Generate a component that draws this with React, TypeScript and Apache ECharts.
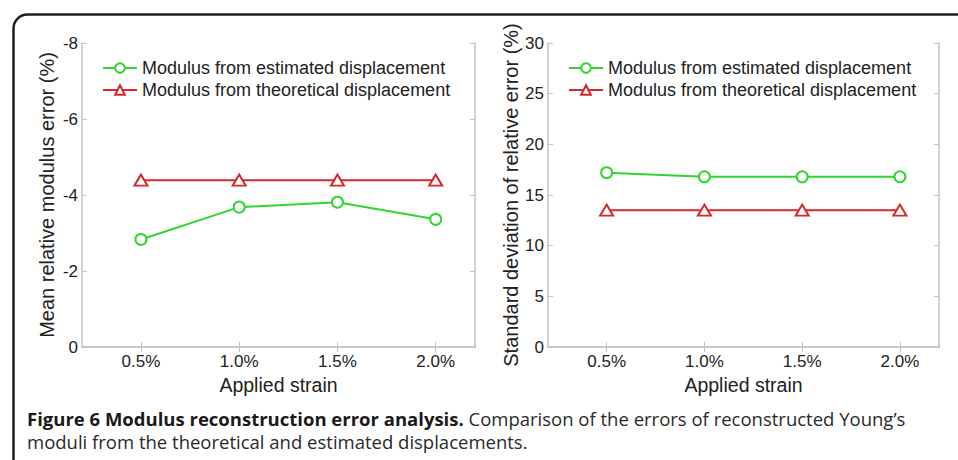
import React, { useEffect, useRef } from "react";
import * as echarts from "echarts";

const strains = [0.5, 1.0, 1.5, 2.0];
const meanEstimated = [-2.83, -3.68, -3.81, -3.36];
const meanTheoretical = [-4.39, -4.39, -4.39, -4.39];
const stdEstimated = [17.2, 16.8, 16.8, 16.8];
const stdTheoretical = [13.5, 13.5, 13.5, 13.5];

const seriesNames = ["Modulus from estimated displacement", "Modulus from theoretical displacement"];
const yTitles = ["Mean relative modulus error (%)", "Standard deviation of relative error (%)"];
const xTitle = "Applied strain";
const captionBold = "Figure 6 Modulus reconstruction error analysis.";
const captionRest1 = " Comparison of the errors of reconstructed Young\u2019s";
const captionLine2 = "moduli from the theoretical and estimated displacements.";

const GREEN = "#2ed62e";
const RED = "#d42a2a";
const BOX = "#c4c4c4";
const TXT = "#222222";
const FONT = "Liberation Sans, Arial, sans-serif";
const CAPFONT = "Open Sans, sans-serif";

export default function App() {
  const ref = useRef<HTMLDivElement>(null);
  useEffect(() => {
    if (!ref.current) return;
    const chart = echarts.init(ref.current, undefined, { renderer: "svg" });
    const grids = [
      { left: 82, right: 958 - 475, top: 43, bottom: 460 - 347 },
      { left: 548, right: 958 - 939, top: 43, bottom: 460 - 347 },
    ];
    const xAxes: any[] = [];
    const yAxes: any[] = [];
    grids.forEach((_, g) => {
      xAxes.push({
        type: "value", gridIndex: g, min: 0.2, max: 2.2, position: "bottom",
        name: xTitle, nameLocation: "middle", nameGap: 26,
        nameTextStyle: { fontSize: 19.5, color: TXT, fontFamily: FONT },
        axisLine: { show: true, lineStyle: { color: BOX, width: 1.5 } },
        axisTick: { show: true, inside: true, length: 5, customValues: strains, lineStyle: { color: BOX } },
        axisLabel: { customValues: strains, formatter: (v: number) => v.toFixed(1) + "%", fontSize: 17, color: TXT, fontFamily: FONT, margin: 6 },
        splitLine: { show: false },
      });
      xAxes.push({
        type: "value", gridIndex: g, min: 0.2, max: 2.2, position: "top",
        axisLine: { show: true, lineStyle: { color: BOX, width: 1.5 } },
        axisTick: { show: true, inside: true, length: 5, customValues: strains, lineStyle: { color: BOX } },
        axisLabel: { show: false },
        splitLine: { show: false },
      });
      const ycfg = g === 0
        ? { min: -8, max: 0, interval: 2, inverse: true }
        : { min: 0, max: 30, interval: 5 };
      yAxes.push({
        type: "value", gridIndex: g, position: "left", ...ycfg,
        name: yTitles[g], nameLocation: "middle", nameGap: g === 0 ? 25 : 27,
        nameTextStyle: { fontSize: 20, color: TXT, fontFamily: FONT },
        axisLine: { show: true, lineStyle: { color: BOX, width: 1.5 } },
        axisTick: { show: true, inside: true, length: 5, lineStyle: { color: BOX } },
        axisLabel: { fontSize: 17, color: TXT, fontFamily: FONT, margin: 4 },
        splitLine: { show: false },
      });
      yAxes.push({
        type: "value", gridIndex: g, position: "right", ...ycfg,
        axisLine: { show: true, lineStyle: { color: BOX, width: 1.5 } },
        axisTick: { show: true, inside: true, length: 5, lineStyle: { color: BOX } },
        axisLabel: { show: false },
        splitLine: { show: false },
      });
    });

    const mk = (name: string, data: number[], g: number, color: string, symbol: string, size: any) => ({
      type: "line", name, xAxisIndex: g * 2, yAxisIndex: g * 2,
      data: strains.map((s, i) => [s, data[i]]),
      symbol, symbolSize: size, showAllSymbol: true,
      lineStyle: { color, width: 2 },
      itemStyle: { color, borderColor: color, borderWidth: 2 },
      emphasis: { disabled: true },
    });

    const legendBase = {
      orient: "vertical", top: 54, itemWidth: 34, itemHeight: 12, itemGap: 4,
      textStyle: { fontSize: 18, color: TXT, fontFamily: FONT },
      data: seriesNames, selectedMode: false,
    };

    chart.setOption({
      animation: false,
      backgroundColor: "#ffffff",
      grid: grids,
      xAxis: xAxes,
      yAxis: yAxes,
      legend: [
        { ...legendBase, left: 97 },
        { ...legendBase, left: 563 },
      ],
      series: [
        mk(seriesNames[0], meanEstimated, 0, GREEN, "emptyCircle", 11),
        mk(seriesNames[1], meanTheoretical, 0, RED, "emptyTriangle", [13, 11]),
        mk(seriesNames[0], stdEstimated, 1, GREEN, "emptyCircle", 11),
        mk(seriesNames[1], stdTheoretical, 1, RED, "emptyTriangle", [13, 11]),
      ],
      graphic: [
        {
          type: "rect", left: 11, top: 12, silent: true,
          shape: { x: 0, y: 0, width: 1000, height: 600, r: 14 },
          style: { fill: "none", stroke: "#1e1e1e", lineWidth: 2.5 },
        },
        {
          type: "text", x: 27, y: 418, silent: true,
          style: {
            text: "{b|" + captionBold + "}{r|" + captionRest1 + "}",
            verticalAlign: "middle",
            rich: {
              b: { fontFamily: CAPFONT, fontWeight: "bold", fontSize: 18.5, fill: "#1a1a1a" },
              r: { fontFamily: CAPFONT, fontSize: 18.5, fill: "#2a2a2a" },
            },
          },
        },
        {
          type: "text", x: 27, y: 441, silent: true,
          style: {
            text: captionLine2, verticalAlign: "middle",
            fontFamily: CAPFONT, fontSize: 18.5, fill: "#2a2a2a",
          },
        },
      ],
    });
    return () => chart.dispose();
  }, []);
  return <div ref={ref} style={{ position: "absolute", left: 0, top: 0, width: 958, height: 460 }} />;
}
